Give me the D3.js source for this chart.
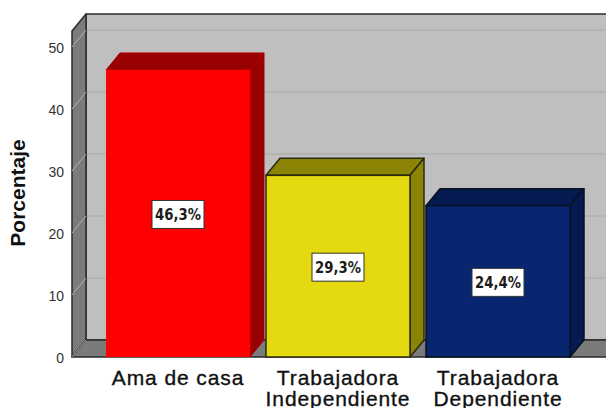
<!DOCTYPE html>
<html><head><meta charset="utf-8">
<style>html,body{margin:0;padding:0;background:#fff;overflow:hidden}svg{display:block}</style>
<script src="https://cdn.jsdelivr.net/npm/d3@7"></script></head><body>
<svg id="c" width="606" height="408"></svg>
<script>
const categories = [["Ama de casa"],["Trabajadora","Independiente"],["Trabajadora","Dependiente"]];
const values = [46.3,29.3,24.4];
const valueLabels = ["46,3%","29,3%","24,4%"];
const frontColors = ["#ff0000","#e5d90f","#07266f"];
const sideColors = ["#990000","#8c8405","#041a50"];
const strokeColors = ["#b00000","#2a2a10","#0a1020"];
const yTicks = [0,10,20,30,40,50];
const yTitle = "Porcentaje";

const svg = d3.select("#c");
const y = d3.scaleLinear().domain([0,50]).range([357,47]);
const x = d3.scaleBand().domain(d3.range(3)).range([106,570]).paddingInner(0.1);
const dx = 14, dy = -17;
const wallL = 72, wallR = 606, wallT = 14;
const poly = (pts,fill,stroke,sw)=>svg.append("polygon").attr("points",pts.map(p=>p.join(",")).join(" "))
  .attr("fill",fill).attr("stroke",stroke||"none").attr("stroke-width",sw||1).attr("stroke-linejoin","round");

// walls
poly([[wallL+dx,wallT],[wallR+2,wallT],[wallR+2,y(0)+dy],[wallL+dx,y(0)+dy]],"#bfbfbf","#2b2b2b",1.5);
poly([[wallL,y(0)],[wallL,wallT-dy],[wallL+dx,wallT],[wallL+dx,y(0)+dy]],"#7b7b7b","#2b2b2b",1.5);
poly([[wallL,y(0)],[wallL+dx,y(0)+dy],[wallR+2,y(0)+dy],[wallR+2,y(0)]],"#7b7b7b","#2b2b2b",1.5);

// grid
yTicks.forEach(t=>{
  if(t>0) svg.append("line").attr("x1",wallL+dx+1).attr("x2",wallR).attr("y1",y(t)+dy).attr("y2",y(t)+dy).attr("stroke","#b0b0b0").attr("stroke-width",1.5);
  svg.append("line").attr("x1",wallL).attr("x2",wallL+dx).attr("y1",y(t)).attr("y2",y(t)+dy).attr("stroke","#b4b4b4").attr("stroke-width",1);
});

// axis labels
const ax = svg.append("g").attr("transform",`translate(${wallL},1.5)`)
  .call(d3.axisLeft(y).tickValues(yTicks).tickSize(0).tickPadding(8));
ax.select(".domain").remove();
ax.selectAll("text").attr("font-family","'Liberation Sans',Arial,sans-serif").attr("font-size",14).attr("fill","#333");

// bars
values.forEach((v,i)=>{
  const x0=x(i), x1=x0+x.bandwidth(), yt=y(v), yb=y(0);
  const st=strokeColors[i];
  poly([[x0,yt],[x0+dx,yt+dy],[x1+dx,yt+dy],[x1,yt]],sideColors[i],st,i==0?1:1.5);
  poly([[x1,yt],[x1+dx,yt+dy],[x1+dx,yb+dy],[x1,yb]],sideColors[i],st,i==0?1:1.5);
  svg.append("rect").attr("x",x0).attr("y",yt).attr("width",x.bandwidth()).attr("height",yb-yt)
    .attr("fill",frontColors[i]).attr("stroke",i==0?"none":st).attr("stroke-width",1.5);
  const cx=(x0+x1)/2, cy=(yt+yb)/2+1;
  svg.append("rect").attr("x",cx-26).attr("y",cy-14).attr("width",52).attr("height",28)
    .attr("fill","#fff").attr("stroke","#333").attr("stroke-width",1);
  svg.append("text").attr("x",cx).attr("y",cy+6).attr("text-anchor","middle")
    .attr("font-family","'DejaVu Sans Condensed','DejaVu Sans',sans-serif").attr("font-weight","bold").attr("font-size",16)
    .attr("textLength",46).attr("lengthAdjust","spacingAndGlyphs").attr("fill","#1c1c1c").text(valueLabels[i]);
  categories[i].forEach((s,j)=>{
    svg.append("text").attr("x",cx).attr("y",385+j*20.5).attr("text-anchor","middle")
      .attr("font-family","'Liberation Sans',Arial,sans-serif").attr("font-size",21).attr("letter-spacing",0.9)
      .attr("stroke","#111").attr("stroke-width",0.35).attr("fill","#111").text(s);
  });
});

svg.append("text").attr("transform","translate(25,193) rotate(-90)").attr("text-anchor","middle")
  .attr("font-family","'Liberation Sans',Arial,sans-serif").attr("font-weight","bold").attr("font-size",21).attr("fill","#111").text(yTitle);
</script></body></html>
